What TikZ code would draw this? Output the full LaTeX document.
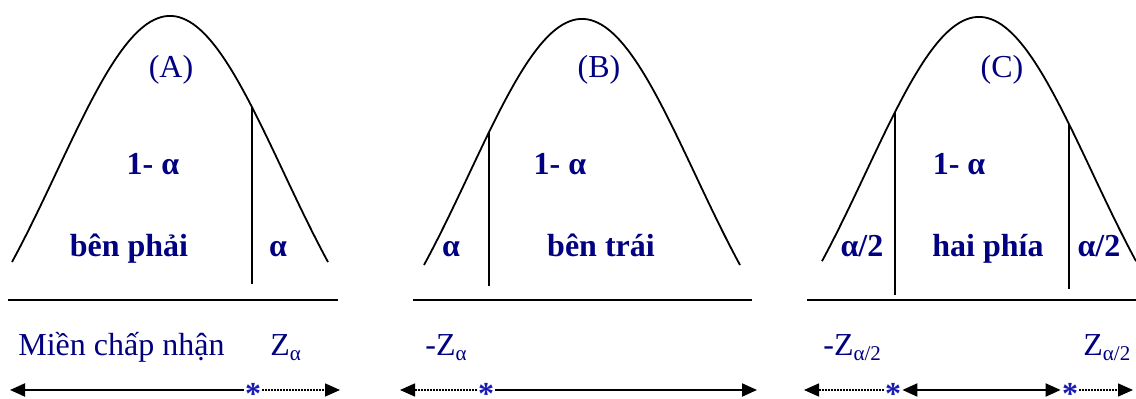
\documentclass[tikz,border=0pt]{standalone}
\usepackage{fontspec}
\setmainfont{Liberation Serif}
\usepackage{tikz}
\usetikzlibrary{arrows.meta}
\definecolor{ink}{RGB}{0,0,128}
\definecolor{starblue}{RGB}{25,25,180}
\newcommand{\zsub}[1]{\raisebox{-2.5pt}{\fontsize{10.5}{12}\selectfont #1}}
\newcommand{\astmark}{\raisebox{-0.40em}[0.27em][0.15em]{*}}

\begin{document}
\begin{tikzpicture}[x=0.5pt, y=-0.5pt,
  curve/.style={line width=0.9pt},
  lbl/.style={ink, inner sep=0pt, anchor=base, font=\fontsize{16}{19}\selectfont},
  blbl/.style={lbl, font=\fontsize{16}{19}\selectfont\bfseries},
  astk/.style={starblue, inner sep=0.5pt, font=\fontsize{16}{19}\selectfont\bfseries},
  solidarr/.style={line width=1pt, -{Triangle[length=7.5pt, width=6.5pt]}},
  dotarr/.style={solidarr, line width=0.75pt, dash pattern=on 0.75pt off 0.75pt},
  bothar/.style={line width=1pt, {Triangle[length=7.5pt, width=6.5pt]}-{Triangle[length=7.5pt, width=6.5pt]}}]
  \useasboundingbox (0,0) rectangle (1136,399);
  % bell curves
  \foreach \cx/\pk/\hw in {170/16/158, 582/19/158, 979/17/157}{
    \draw[curve] plot[domain=-\hw:\hw, samples=90, smooth]
      ({\cx+\x}, {\pk+395*(1-exp(-(\x/160)^2))});
  }
  % cut lines
  \foreach \cx/\pk/\xx/\yb in {170/16/252/284, 582/19/489/286,
                               979/17/895/295, 979/17/1069/289}{
    \pgfmathsetmacro\yt{\pk+395*(1-exp(-((\xx-\cx)/160)^2))}
    \draw[curve] (\xx,\yt) -- (\xx,\yb);
  }
  \draw[curve] (8,300) -- (338,300);
  \draw[curve] (413,300) -- (752,300);
  \draw[curve] (807,300) -- (1136,300);
  % panel A
  \node[lbl]  (titleA) at (171,78) {(A)};
  \node[blbl] (restA)  at (153,175) {1- α};
  \node[blbl] (sideA)  at (129,257) {bên phải};
  \node[blbl] (tailA)  at (278,257) {α};
  % panel B
  \node[lbl]  (titleB) at (599,78) {(B)};
  \node[blbl] (restB)  at (560,175) {1- α};
  \node[blbl] (tailB)  at (451,257) {α};
  \node[blbl] (sideB)  at (601,257) {bên trái};
  % panel C
  \node[lbl]  (titleC) at (1002,78) {(C)};
  \node[blbl] (restC)  at (959,175) {1- α};
  \node[blbl] (tailCl) at (862,257) {α/2};
  \node[blbl] (sideC)  at (988,257) {hai phía};
  \node[blbl] (tailCr) at (1099,257) {α/2};
  % critical values
  \node[lbl, anchor=base west] (accept) at (18,356) {Miền chấp nhận};
  \node[lbl, anchor=base west] (zA)  at (270,356) {Z\zsub{α}};
  \node[lbl, anchor=base west] (zB)  at (425,356) {-Z\zsub{α}};
  \node[lbl, anchor=base west] (zCl) at (823,356) {-Z\zsub{α/2}};
  \node[lbl, anchor=base west] (zCr) at (1083,356) {Z\zsub{α/2}};
  % axes with stars
  \node[astk] (sA)  at (253,390) {\astmark};
  \node[astk] (sB)  at (486,390) {\astmark};
  \node[astk] (sCl) at (893,390) {\astmark};
  \node[astk] (sCr) at (1070,390) {\astmark};
  \coordinate (endAl) at (10,390);
  \coordinate (endAr) at (340,390);
  \coordinate (endBl) at (400,390);
  \coordinate (endBr) at (757,390);
  \coordinate (endCl) at (804,390);
  \coordinate (endCr) at (1133,390);
  \draw[solidarr] (sA) -- (endAl);
  \draw[dotarr]   (sA) -- (endAr);
  \draw[dotarr]   (sB) -- (endBl);
  \draw[solidarr] (sB) -- (endBr);
  \draw[dotarr]   (sCl) -- (endCl);
  \draw[bothar]   (sCl) -- (sCr);
  \draw[dotarr]   (sCr) -- (endCr);
\end{tikzpicture}
\end{document}
